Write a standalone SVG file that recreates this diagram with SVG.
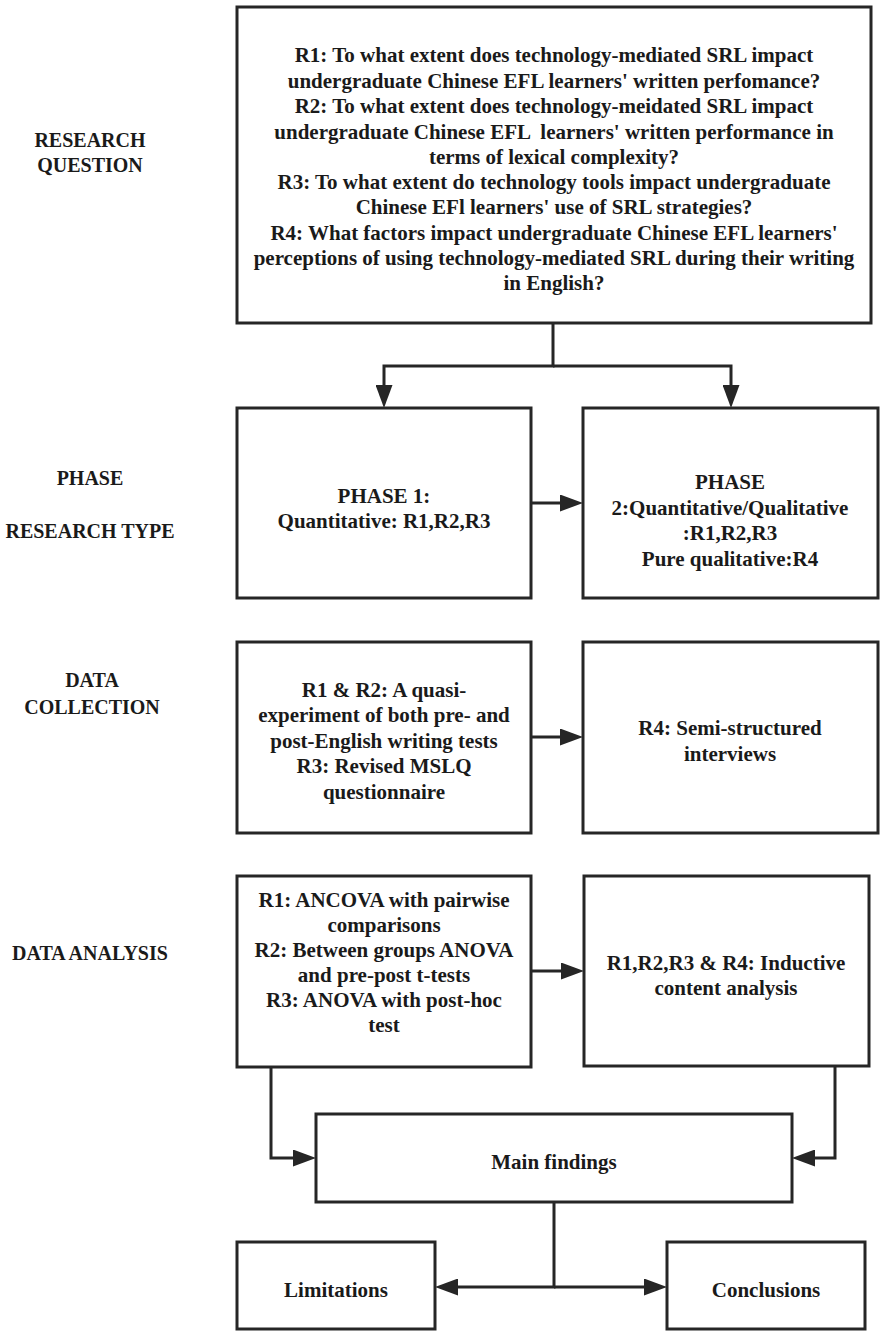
<svg xmlns="http://www.w3.org/2000/svg" width="887" height="1339" viewBox="0 0 887 1339">
<style>
.box{fill:#fff;stroke:#262626;stroke-width:3}
.t{font-family:"Liberation Serif","Times New Roman",serif;font-weight:bold;font-size:21px;fill:#1a1a1a;text-anchor:middle;white-space:pre}
.lab{font-family:"Liberation Serif","Times New Roman",serif;font-weight:bold;font-size:20px;fill:#1a1a1a;text-anchor:middle}
.c{fill:none;stroke:#262626;stroke-width:3}
</style>
<defs>
<marker id="ah" markerUnits="userSpaceOnUse" markerWidth="23" markerHeight="17" refX="13" refY="8.5" orient="auto">
<path d="M0,0 L23,8.5 L0,17 z" fill="#262626"/>
</marker>
</defs>
<rect width="887" height="1339" fill="#fff"/>
<g id="labels">
<text class="lab" x="90" y="147">RESEARCH</text>
<text class="lab" x="90" y="172">QUESTION</text>
<text class="lab" x="90" y="485">PHASE</text>
<text class="lab" x="90" y="538">RESEARCH TYPE</text>
<text class="lab" x="92" y="687">DATA</text>
<text class="lab" x="92" y="714">COLLECTION</text>
<text class="lab" x="90" y="960">DATA ANALYSIS</text>
</g>
<g id="connectors">
<path class="c" d="M553,323 V366 H384 V398" marker-end="url(#ah)"/>
<path class="c" d="M553,366 H731 V398" marker-end="url(#ah)"/>
<path class="c" d="M531,503 H573" marker-end="url(#ah)"/>
<path class="c" d="M531,737 H573" marker-end="url(#ah)"/>
<path class="c" d="M531,971 H574" marker-end="url(#ah)"/>
<path class="c" d="M271,1067 V1158 H306" marker-end="url(#ah)"/>
<path class="c" d="M835,1066 V1158 H802" marker-end="url(#ah)"/>
<path class="c" d="M554,1202 V1287 H445" marker-end="url(#ah)"/>
<path class="c" d="M554,1287 H657" marker-end="url(#ah)"/>
</g>
<g id="research-questions">
<rect class="box" x="237" y="7" width="634" height="316"/>
<text class="t" x="554" y="62">R1: To what extent does technology-mediated SRL impact</text>
<text class="t" x="554" y="88">undergraduate Chinese EFL learners' written perfomance?</text>
<text class="t" x="554" y="113">R2: To what extent does technology-meidated SRL impact</text>
<text class="t" x="554" y="139">undergraduate Chinese EFL  learners' written performance in</text>
<text class="t" x="554" y="164">terms of lexical complexity?</text>
<text class="t" x="554" y="189">R3: To what extent do technology tools impact undergraduate</text>
<text class="t" x="554" y="214">Chinese EFl learners' use of SRL strategies?</text>
<text class="t" x="554" y="240">R4: What factors impact undergraduate Chinese EFL learners'</text>
<text class="t" x="554" y="265">perceptions of using technology-mediated SRL during their writing</text>
<text class="t" x="554" y="290">in English?</text>
</g>
<g id="phase1">
<rect class="box" x="237" y="408" width="294" height="190"/>
<text class="t" x="384" y="503">PHASE 1:</text>
<text class="t" x="384" y="528">Quantitative: R1,R2,R3</text>
</g>
<g id="phase2">
<rect class="box" x="583" y="408" width="295" height="190"/>
<text class="t" x="730" y="489">PHASE</text>
<text class="t" x="730" y="515">2:Quantitative/Qualitative</text>
<text class="t" x="730" y="540">:R1,R2,R3</text>
<text class="t" x="730" y="566">Pure qualitative:R4</text>
</g>
<g id="data-collection-quant">
<rect class="box" x="237" y="642" width="294" height="191"/>
<text class="t" x="384" y="697">R1 &amp; R2: A quasi-</text>
<text class="t" x="384" y="722">experiment of both pre- and</text>
<text class="t" x="384" y="748">post-English writing tests</text>
<text class="t" x="384" y="773">R3: Revised MSLQ</text>
<text class="t" x="384" y="799">questionnaire</text>
</g>
<g id="data-collection-qual">
<rect class="box" x="583" y="642" width="295" height="191"/>
<text class="t" x="730" y="735">R4: Semi-structured</text>
<text class="t" x="730" y="761">interviews</text>
</g>
<g id="data-analysis-quant">
<rect class="box" x="237" y="876" width="294" height="191"/>
<text class="t" x="384" y="907">R1: ANCOVA with pairwise</text>
<text class="t" x="384" y="932">comparisons</text>
<text class="t" x="384" y="957">R2: Between groups ANOVA</text>
<text class="t" x="384" y="982">and pre-post t-tests</text>
<text class="t" x="384" y="1007">R3: ANOVA with post-hoc</text>
<text class="t" x="384" y="1032">test</text>
</g>
<g id="data-analysis-qual">
<rect class="box" x="584" y="876" width="285" height="190"/>
<text class="t" x="726" y="970">R1,R2,R3 &amp; R4: Inductive</text>
<text class="t" x="726" y="995">content analysis</text>
</g>
<g id="main-findings">
<rect class="box" x="316" y="1114" width="476" height="88"/>
<text class="t" x="554" y="1169">Main findings</text>
</g>
<g id="limitations">
<rect class="box" x="237" y="1242" width="198" height="87"/>
<text class="t" x="336" y="1297">Limitations</text>
</g>
<g id="conclusions">
<rect class="box" x="667" y="1242" width="198" height="87"/>
<text class="t" x="766" y="1297">Conclusions</text>
</g>
</svg>
